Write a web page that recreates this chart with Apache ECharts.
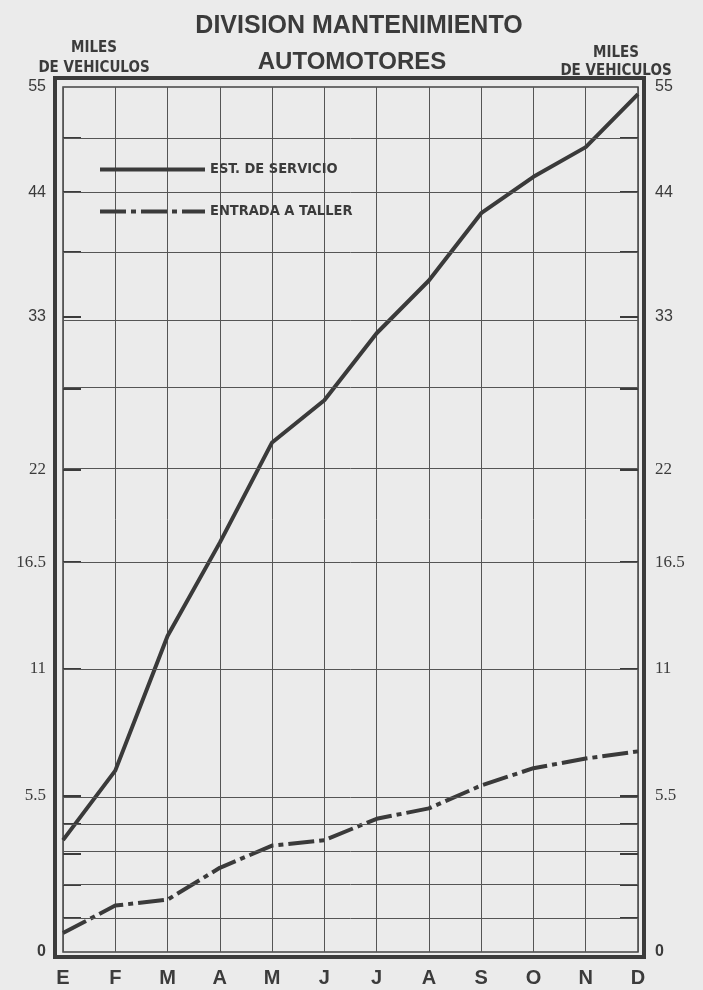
<!DOCTYPE html>
<html><head><meta charset="utf-8">
<script src="https://cdn.jsdelivr.net/npm/echarts@6/dist/echarts.min.js"></script>
<style>html,body{margin:0;padding:0;background:#ebebeb}#c{width:703px;height:990px}</style>
</head><body><div id="c"></div>
<script>
// ---- data ----
const months = ['E','F','M','A','M','J','J','A','S','O','N','D'];
const serviceValues = [3.8, 6.5, 12.6, 17.6, 23.8, 26.7, 31.7, 36.0, 42.0, 45.5, 48.5, 54.2];
const tallerValues  = [0.6, 1.5, 1.7, 2.8, 3.6, 3.8, 4.6, 5.0, 5.9, 6.6, 7.0, 7.3];
const seriesNames = ['EST. DE SERVICIO', 'ENTRADA A TALLER'];
const yTickLabels = [0, 5.5, 11, 16.5, 22, 33, 44, 55];
const yGridValues = [1.1, 2.2, 3.3, 4.4, 5.5, 11, 16.5, 22, 27.5, 33, 38.5, 44, 49.5];

// ---- scale (compressed paper scale) ----
const K = 21;
const f = v => Math.log(1 + v / K);
const yMax = f(55);
const sansLabels = new Set([0, 33, 44, 55]);
const labelFor = t => { let best = 0, d = 1e9; for (const v of yTickLabels) { const dd = Math.abs(f(v) - t); if (dd < d) { d = dd; best = v; } } return best; };
const fmt = t => { const v = labelFor(t); const key = v === 0 ? 'z' : (sansLabels.has(v) ? 's' : 'r'); return '{' + key + '|' + v + '}'; };

const ink = '#3b3b3b';
const narrow = "'Liberation Sans Narrow','DejaVu Sans Condensed','DejaVu Sans',sans-serif";
const rich = {
  s: { fontFamily: 'Liberation Sans', fontSize: 16, color: ink },
  r: { fontFamily: 'Liberation Serif', fontSize: 17, color: ink },
  z: { fontFamily: 'Liberation Sans', fontSize: 16, fontWeight: 'bold', color: ink }
};
const yAxis = pos => ({
  type: 'value', position: pos, min: 0, max: yMax,
  axisLine: { show: false },
  splitLine: { show: false },
  axisTick: { show: true, inside: true, length: 18, customValues: yGridValues.map(f), lineStyle: { color: ink, width: 2 } },
  axisLabel: { customValues: yTickLabels.map(f), formatter: fmt, margin: 17, rich: rich }
});

const chart = echarts.init(document.getElementById('c'), null, { renderer: 'canvas' });
chart.setOption({
  animation: false,
  backgroundColor: '#ebebeb',
  title: [
    { text: 'DIVISION MANTENIMIENTO', left: 354, top: 9, textAlign: 'center',
      textStyle: { fontFamily: 'Liberation Sans', fontWeight: 'bold', fontSize: 25, color: ink } },
    { text: 'AUTOMOTORES', left: 347, top: 45, textAlign: 'center',
      textStyle: { fontFamily: 'Liberation Sans', fontWeight: 'bold', fontSize: 24, color: ink } },
    { text: 'MILES\nDE VEHICULOS', left: 89, top: 33, textAlign: 'center',
      textStyle: { fontFamily: narrow, fontWeight: 'bold', fontSize: 15, lineHeight: 20, color: ink, align: 'center' } },
    { text: 'MILES\nDE VEHICULOS', left: 611, top: 39, textAlign: 'center',
      textStyle: { fontFamily: narrow, fontWeight: 'bold', fontSize: 15, lineHeight: 18, color: ink, align: 'center' } }
  ],
  legend: {
    data: seriesNames, orient: 'vertical', left: 93, top: 157,
    itemWidth: 105, itemHeight: 14, itemGap: 27,
    lineStyle: { width: 4 },
    itemStyle: { opacity: 0 },
    textStyle: { fontFamily: narrow, fontWeight: 'bold', fontSize: 14.5, color: ink }
  },
  grid: { left: 63, right: 65, top: 87, bottom: 38, show: true, borderColor: '#444', borderWidth: 1.5 },
  xAxis: {
    type: 'category', data: months, boundaryGap: false,
    axisLine: { show: false }, axisTick: { show: false },
    splitLine: { show: true, lineStyle: { color: '#555', width: 1 } },
    axisLabel: { margin: 16, fontSize: 20, fontWeight: 'bold', fontFamily: 'Liberation Sans', color: ink }
  },
  yAxis: [yAxis('left'), yAxis('right')],
  graphic: [
    { type: 'rect', shape: { x: 55, y: 78, width: 589, height: 879 }, style: { fill: 'none', stroke: ink, lineWidth: 4 }, silent: true }
  ],
  series: [
    { name: 'grid', type: 'line', data: [], silent: true, z: 1,
      markLine: { silent: true, symbol: 'none', label: { show: false },
        lineStyle: { type: 'solid', color: '#555', width: 1 },
        data: yGridValues.map(v => ({ yAxis: f(v) })) } },
    { name: seriesNames[0], type: 'line', data: serviceValues.map(f), symbol: 'none', z: 3,
      lineStyle: { color: '#3a3a3a', width: 4 }, itemStyle: { color: '#3a3a3a' } },
    { name: seriesNames[1], type: 'line', data: tallerValues.map(f), symbol: 'none', z: 3,
      lineStyle: { color: '#3a3a3a', width: 4, type: [26, 5, 5, 5] }, itemStyle: { color: '#3a3a3a' } }
  ]
});
</script></body></html>
